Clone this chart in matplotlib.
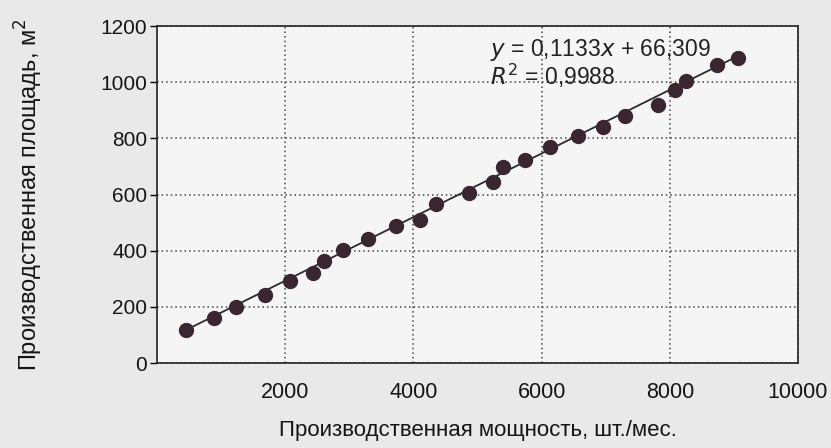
import numpy as np
import matplotlib.pyplot as plt

plt.rcParams['font.family'] = ['Liberation Sans', 'DejaVu Sans']

# capacity, pcs/month and production area, m2
capacity = [460, 889, 1240, 1680, 2078, 2440, 2610, 2904, 3291, 3731, 4100,
            4352, 4868, 5245, 5400, 5736, 6134, 6563, 6961, 7297, 7814,
            8082, 8253, 8744, 9065]
area = [116, 160, 199, 241, 291, 320, 364, 401, 443, 489, 511,
        566, 605, 643, 697, 724, 769, 807, 839, 878, 920,
        973, 1003, 1060, 1086]

slope = 0.1133
intercept = 66.309
r2 = 0.9988

x_ticks = [2000, 4000, 6000, 8000, 10000]
y_ticks = [0, 200, 400, 600, 800, 1000, 1200]

fig = plt.figure(figsize=(8.31, 4.48), dpi=100, facecolor='#e9e9e9')
ax = fig.add_axes([0.1889, 0.1897, 0.7714, 0.7522])
ax.set_facecolor('#f5f5f5')

# trend line over the data range
xs = np.array([min(capacity), max(capacity)])
ax.plot(xs, slope * xs + intercept, color='#2b2b2b', lw=1.3, zorder=2)
ax.plot(capacity, area, 'o', color='#3a2630', ms=10, zorder=3)

ax.set_xlim(0, 10000)
ax.set_ylim(0, 1200)
ax.set_xticks(x_ticks)
ax.set_yticks(y_ticks)
ax.grid(True, color='#444444', linestyle=(0, (1, 2.0)), lw=1.1)
ax.tick_params(axis='x', length=0, pad=14, labelsize=15.5, labelcolor='#151515')
ax.tick_params(axis='y', length=5, width=1, direction='out', pad=2, labelsize=15,
               labelcolor='#151515')
for s in ax.spines.values():
    s.set_color('#222222')
    s.set_linewidth(1.2)

eq_line = f'$y$ = {slope:.4f}$x$ + {intercept:.3f}'.replace('.', ',')
r2_line = '$R^2$ = ' + f'{r2:.4f}'.replace('.', ',')
ax.text(5200, 1160, eq_line + '\n' + r2_line, fontsize=16.5, color='#222222',
        va='top', linespacing=0.95)

ax.set_xlabel('Производственная мощность, шт./мес.', fontsize=16, labelpad=12,
              color='#151515')
ax.set_ylabel('Производственная площадь, м$^2$', fontsize=17, color='#151515')
ax.yaxis.set_label_coords(-0.175, 0.5)

fig.savefig('out.png', dpi=100, facecolor=fig.get_facecolor())
